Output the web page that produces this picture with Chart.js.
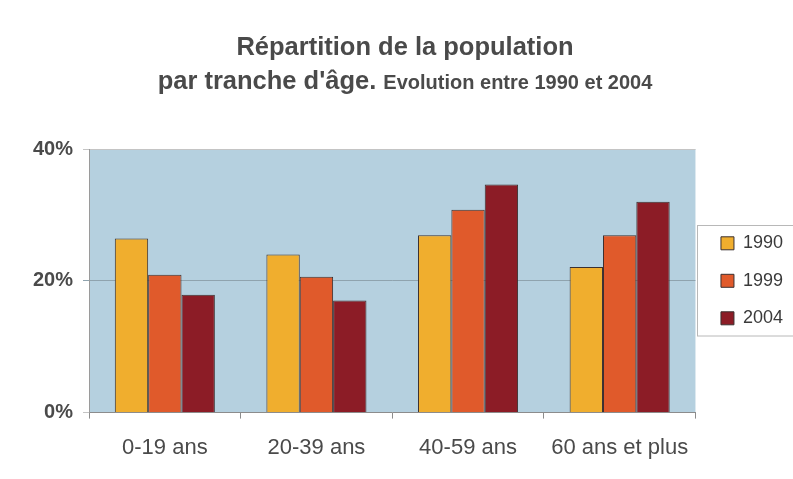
<!DOCTYPE html>
<html>
<head>
<meta charset="utf-8">
<script src="https://cdn.jsdelivr.net/npm/chart.js@4/dist/chart.umd.min.js"></script>
<style>
  html, body { margin: 0; padding: 0; background: #fff; }
  .wrap { position: relative; width: 793px; height: 479px; }
  .title {
    position: absolute; left: 0; width: 793px; box-sizing: border-box;
    padding-left: 17px; text-align: center; color: #4a4a4a;
    font-family: 'Liberation Sans', Arial, sans-serif; font-weight: bold;
    line-height: 1; white-space: nowrap;
  }
  .t1 { top: 34px; font-size: 25.5px; }
  .t2 { top: 68px; font-size: 25.5px; }
  .t2 small { font-size: 20px; }
</style>
</head>
<body>
<div class="wrap">
  <canvas id="chart"></canvas>
  <div class="title t1">Répartition de la population</div>
  <div class="title t2">par tranche d'âge. <small>Evolution entre 1990 et 2004</small></div>
</div>
<script>
const categories = ['0-19 ans', '20-39 ans', '40-59 ans', '60 ans et plus']
const years = ['1990', '1999', '2004']
const values1990 = [26.4, 24.0, 26.9, 22.1]
const values1999 = [20.9, 20.6, 30.8, 26.9]
const values2004 = [17.9, 17.0, 34.6, 32.0]
const yTicks = [0, 20, 40]

const colors = ['#f0ae2e', '#e05a2b', '#8c1c26']
const FONT = "'Liberation Sans', Arial, sans-serif"

// light blue plot background
const plotBackground = {
  id: 'plotBackground',
  beforeDraw(chart) {
    const { ctx, chartArea: { left, top, width, height } } = chart
    ctx.save()
    ctx.fillStyle = '#b5d0df'
    ctx.fillRect(left, top, width, height)
    ctx.restore()
  }
}

// nudge the legend to the right and frame it in grey
const legendFrame = {
  id: 'legendFrame',
  afterLayout(chart) {
    chart.legend.left += 6
    chart.legend.right += 6
  },
  afterDraw(chart) {
    const lg = chart.legend
    const sizes = lg.columnSizes
    if (!sizes || !sizes.length) return
    const h = sizes[0].height
    const top = (lg.top + lg.bottom - h) / 2
    const { ctx } = chart
    ctx.save()
    ctx.strokeStyle = '#b8b8b8'
    ctx.lineWidth = 1
    ctx.strokeRect(Math.round(lg.left) - 3.5, Math.round(top) + 0.5, 140, h - 2)
    ctx.restore()
  }
}

const allValues = [values1990, values1999, values2004]

new Chart(document.getElementById('chart'), {
  type: 'bar',
  plugins: [plotBackground, legendFrame],
  data: {
    labels: categories,
    datasets: years.map((year, i) => ({
      label: year,
      data: allValues[i],
      backgroundColor: colors[i],
      borderColor: '#3b3030',
      borderWidth: 1,
      barPercentage: 1,
      categoryPercentage: 0.66
    }))
  },
  options: {
    responsive: true,
    maintainAspectRatio: false,
    animation: false,
    layout: {
      padding: { top: 149, left: 23, right: 6, bottom: 2 }
    },
    plugins: {
      tooltip: { enabled: false },
      legend: {
        position: 'right',
        fullSize: false,
        labels: {
          boxWidth: 13,
          boxHeight: 13,
          padding: 19.5,
          color: '#3a3a3a',
          font: { family: FONT, size: 18 }
        }
      }
    },
    scales: {
      x: {
        border: { display: true, color: '#8c8c8c' },
        grid: {
          offset: true,
          drawOnChartArea: false,
          drawTicks: true,
          tickLength: 6,
          color: '#8c8c8c'
        },
        ticks: {
          padding: 16,
          color: '#4a4a4a',
          font: { family: FONT, size: 22 }
        }
      },
      y: {
        min: 0,
        max: 40,
        afterBuildTicks(axis) {
          axis.ticks = yTicks.map((v) => ({ value: v }))
        },
        border: { display: true, color: '#9a9a9a' },
        grid: {
          tickLength: 6,
          color: (ctx) => (ctx.tick && ctx.tick.value === 20 ? '#8fa3ae' : '#c4c4c4')
        },
        ticks: {
          padding: 10,
          color: '#4a4a4a',
          font: { family: FONT, size: 20, weight: 'bold' },
          callback: (v) => v + '%'
        }
      }
    }
  }
})
</script>
</body>
</html>
